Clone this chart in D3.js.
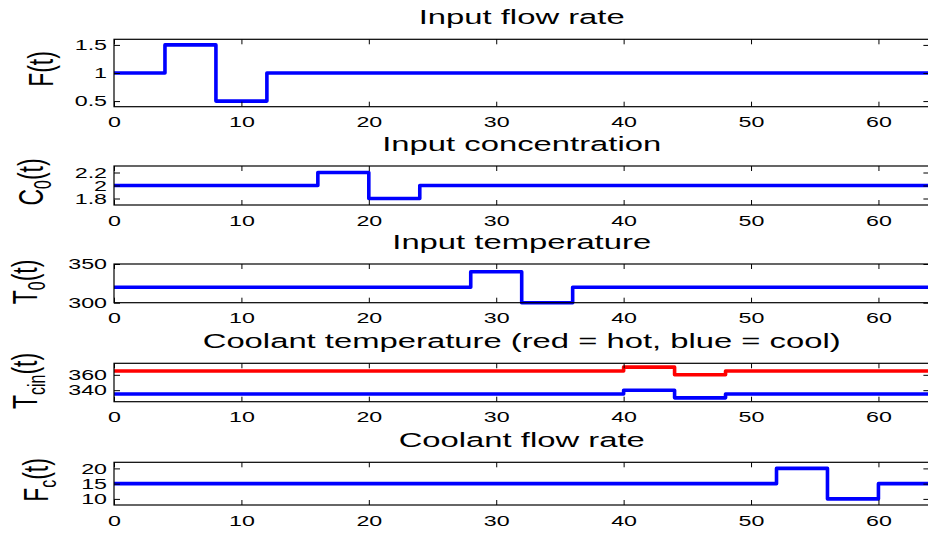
<!DOCTYPE html>
<html>
<head>
<meta charset="utf-8">
<script src="https://cdn.jsdelivr.net/npm/d3@7"></script>
<style>
  body { margin: 0; background: #fff; }
  svg { display: block; }
  text { font-family: "Liberation Sans", Arial, Helvetica, sans-serif; fill: #000; }
</style>
</head>
<body>
<svg id="chart" width="928" height="535"></svg>
<script>
// time axis
var tDomain = [0, 64];
var tTicks = [0, 10, 20, 30, 40, 50, 60];

// step inputs: time where the value changes, value from that time on
var flowTimes = [0, 4, 8, 12, 64];
var flowVals = [1, 1.5, 0.5, 1, 1];

var concTimes = [0, 16, 20, 24, 64];
var concVals = [2, 2.2, 1.8, 2, 2];

var tempTimes = [0, 28, 32, 36, 64];
var tempVals = [320, 340, 300, 320, 320];

var coolTimes = [0, 40, 44, 48, 64];
var coolHotVals = [365, 370, 360, 365, 365];
var coolColdVals = [335, 340, 330, 335, 335];

var cfTimes = [0, 52, 56, 60, 64];
var cfVals = [15, 20, 10, 15, 15];

// y ticks
var flowTicks = [0.5, 1, 1.5];
var concTicks = [1.8, 2, 2.2];
var tempTicks = [300, 350];
var coolTicks = [340, 360];
var cfTicks = [10, 15, 20];

var svg = d3.select("#chart");
var left = 114, right = 929.4;
var sxTitle = 1.6, sxTick = 1.55, sxLabel = 1.5;

var x = d3.scaleLinear().domain(tDomain).range([left, right]);

var panels = [
    { title: "Input flow rate", top: 39.3, bottom: 106.7, domain: [0.4, 1.6], ticks: flowTicks,
      label: ["F", null, "(t)"], labelX: 53, labelY: 69,
      series: [{ t: flowTimes, v: flowVals, color: "#0000ff" }] },
    { title: "Input concentration", top: 166, bottom: 205, domain: [1.7, 2.3], ticks: concTicks,
      label: ["C", "0", "(t)"], labelX: 43, labelY: 182,
      series: [{ t: concTimes, v: concVals, color: "#0000ff" }] },
    { title: "Input temperature", top: 264, bottom: 302.7, domain: [300, 350], ticks: tempTicks,
      label: ["T", "0", "(t)"], labelX: 37, labelY: 282,
      series: [{ t: tempTimes, v: tempVals, color: "#0000ff" }] },
    { title: "Coolant temperature (red = hot, blue = cool)", top: 363.3, bottom: 401.7, domain: [325, 375], ticks: coolTicks,
      label: ["T", "cin", "(t)"], labelX: 37, labelY: 381,
      series: [{ t: coolTimes, v: coolHotVals, color: "#ff0000" },
               { t: coolTimes, v: coolColdVals, color: "#0000ff" }] },
    { title: "Coolant flow rate", top: 462.3, bottom: 505, domain: [8, 22], ticks: cfTicks,
      label: ["F", "c", "(t)"], labelX: 48, labelY: 480,
      series: [{ t: cfTimes, v: cfVals, color: "#0000ff" }] }
];

panels.forEach(function (p) {
    var y = d3.scaleLinear().domain(p.domain).range([p.bottom, p.top]);
    var g = svg.append("g");

    // lines first, frame on top
    var line = d3.line()
        .x(function (d) { return x(d[0]); })
        .y(function (d) { return y(d[1]); })
        .curve(d3.curveStepAfter);

    p.series.forEach(function (s) {
        g.append("path")
            .datum(d3.zip(s.t, s.v))
            .attr("d", line)
            .attr("fill", "none")
            .attr("stroke", s.color)
            .attr("stroke-width", 3.6)
            .attr("stroke-linejoin", "round");
    });

    // bottom axis with labels
    var xb = g.append("g")
        .attr("transform", "translate(0," + p.bottom + ")")
        .call(d3.axisBottom(x).tickValues(tTicks).tickSize(-5).tickSizeOuter(0).tickPadding(10));
    xb.selectAll("text")
        .attr("font-size", 15)
        .attr("transform", "scale(" + sxTick + ",1)");

    // top ticks
    g.append("g")
        .attr("transform", "translate(0," + p.top + ")")
        .call(d3.axisTop(x).tickValues(tTicks).tickSize(-5).tickSizeOuter(0).tickFormat(""));

    // left axis with labels
    var yl = g.append("g")
        .attr("transform", "translate(" + left + ",0)")
        .call(d3.axisLeft(y).tickValues(p.ticks).tickSize(-6).tickSizeOuter(0).tickPadding(4.5)
            .tickFormat(d3.format("")));
    yl.selectAll("text")
        .attr("font-size", 15)
        .attr("transform", "scale(" + sxTick + ",1)");

    // right ticks
    g.append("g")
        .attr("transform", "translate(" + right + ",0)")
        .call(d3.axisRight(y).tickValues(p.ticks).tickSize(-6).tickSizeOuter(0).tickFormat(""));

    g.selectAll(".domain").remove();
    g.selectAll(".tick line").attr("stroke", "#000");

    // frame
    g.append("rect")
        .attr("x", left)
        .attr("y", p.top)
        .attr("width", right - left)
        .attr("height", p.bottom - p.top)
        .attr("fill", "none")
        .attr("stroke", "#000")
        .attr("stroke-width", 1.2);

    // title
    g.append("text")
        .attr("text-anchor", "middle")
        .attr("font-size", 20.5)
        .attr("transform", "translate(" + ((left + right) / 2) + "," + (p.top - 15.5) + ") scale(" + sxTitle + ",1)")
        .text(p.title);

    // y label with subscript
    var lab = g.append("text")
        .attr("text-anchor", "middle")
        .attr("font-size", 23)
        .attr("transform", "translate(" + p.labelX + "," + p.labelY + ") scale(" + sxLabel + ",1) rotate(-90)");
    lab.append("tspan").text(p.label[0]);
    if (p.label[1]) {
        lab.append("tspan").attr("font-size", 16).attr("dy", 5).text(p.label[1]);
        lab.append("tspan").attr("dy", -5).text(p.label[2]);
    } else {
        lab.append("tspan").text(p.label[2]);
    }
});
</script>
</body>
</html>
